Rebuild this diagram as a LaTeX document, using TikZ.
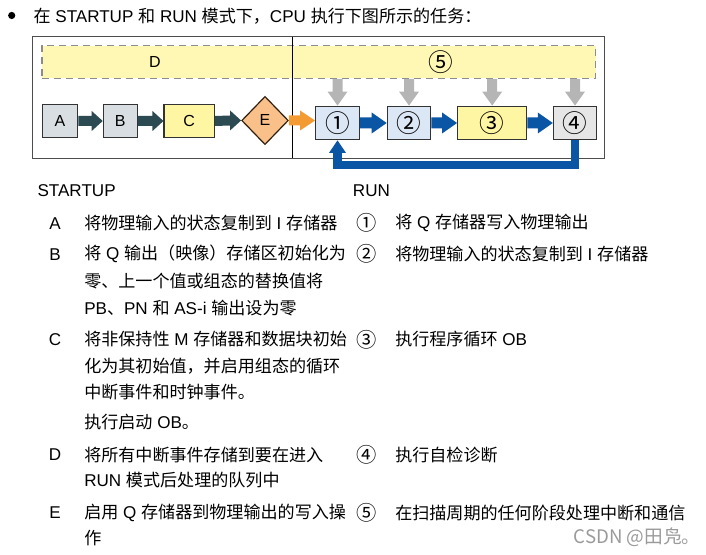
\documentclass[tikz,border=0pt]{standalone}
\usepackage{fontspec}
\setmainfont{Liberation Sans}
\newfontfamily\cjk{Noto Sans CJK SC}
\usetikzlibrary{shapes.geometric,calc}
\newcommand\z[1]{{\cjk #1}}
\definecolor{boxgray}{HTML}{D9DEE3}
\definecolor{boxblue}{HTML}{DCE7F5}
\definecolor{boxyellow}{HTML}{FFF6A3}
\definecolor{boxlight}{HTML}{E6E6E6}
\definecolor{diamondfill}{HTML}{F9C08A}
\definecolor{bandyellow}{HTML}{FFF7B4}
\definecolor{dashgray}{HTML}{8C8C8C}
\definecolor{arrdark}{HTML}{2B4A52}
\definecolor{arrorange}{HTML}{F39A33}
\definecolor{arrblue}{HTML}{0A56A5}
\definecolor{arrgray}{HTML}{B5B5B5}
\definecolor{framegray}{HTML}{4D4D4D}
\definecolor{wmgray}{HTML}{9A9A9A}
% horizontal block arrow: colour, from, to, half shaft, half head, head length (px)
\newcommand\blockarr[6]{%
  \fill[#1] ($(#2)+(0,-#4)$) -- ($(#3)+(-#6,-#4)$) -- ($(#3)+(-#6,-#5)$) -- (#3)
    -- ($(#3)+(-#6,#5)$) -- ($(#3)+(-#6,#4)$) -- ($(#2)+(0,#4)$) -- cycle;}
% downward block arrow (y grows downward)
\newcommand\downarr[6]{%
  \fill[#1] ($(#2)+(-#4,0)$) -- ($(#3)+(-#4,-#6)$) -- ($(#3)+(-#5,-#6)$) -- (#3)
    -- ($(#3)+(#5,-#6)$) -- ($(#3)+(#4,-#6)$) -- ($(#2)+(#4,0)$) -- cycle;}
\tikzset{
  bodyfont/.style={font=\fontsize{12.8}{15}\selectfont},
  txt/.style={anchor=west, inner sep=0pt, bodyfont},
  letter/.style={inner sep=0pt, bodyfont},
  circnum/.style={inner sep=0pt, font=\cjk\fontsize{15.2}{17}\selectfont},
  stepbox/.style={draw=black!80, line width=0.9pt, inner sep=0pt, minimum height=25.2pt,
    font=\fontsize{12}{13}\selectfont},
  runbox/.style={stepbox, font=\cjk\fontsize{18.5}{19}\selectfont}
}
\begin{document}
\begin{tikzpicture}[x=0.75pt,y={(0pt,-0.75pt)}]
\useasboundingbox (0,0) rectangle (706,555);
% title
\node[circle, fill=black, inner sep=0pt, minimum size=5.4pt] (bullet) at (11.7,15.5) {};
\node[txt] (title) at (33.3,16) {\z{在} STARTUP \z{和} RUN \z{模式下，}CPU \z{执行下图所示的任务：}};
% frame and band
\node[draw=framegray, line width=0.9pt, minimum width=428.7pt, minimum height=91.2pt, inner sep=0pt] (frame) at (318.5,97.5) {};
\node[fill=bandyellow, draw=dashgray, line width=1.1pt, dash pattern=on 5.2pt off 3.8pt,
  minimum width=415.4pt, minimum height=24.4pt, inner sep=0pt] (band) at (318.75,62) {};
\node[letter, font=\fontsize{12}{13}\selectfont] (labD) at (155,62) {D};
\node[circnum, font=\cjk\fontsize{18.5}{19}\selectfont] (lab5) at (440.6,62) {⑤};
\coordinate (divtop) at (292.5,36.7);
\coordinate (divbot) at (292.5,158.3);
\draw[line width=0.8pt] (divtop) -- (divbot);
% startup boxes
\node[stepbox, fill=boxgray, minimum width=26.5pt] (A) at (60,121) {A};
\node[stepbox, fill=boxgray, minimum width=25.5pt] (B) at (120.3,121) {B};
\node[stepbox, fill=boxyellow, minimum width=37.7pt] (C) at (189.2,121) {C};
\node[diamond, draw=black!75!brown, fill=diamondfill, line width=0.9pt, inner sep=0pt,
  minimum width=35pt, minimum height=36.2pt, font=\fontsize{12}{13}\selectfont] (E) at (265,120.5) {E};
% run boxes
\node[runbox, fill=boxblue, minimum width=32.7pt] (r1) at (337.5,123) {①};
\node[runbox, fill=boxblue, minimum width=32.6pt] (r2) at (409,123) {②};
\node[runbox, fill=boxyellow, minimum width=51.8pt] (r3) at (492.2,123) {③};
\node[runbox, fill=boxlight, minimum width=32.4pt] (r4) at (575,123) {④};
% arrows
\blockarr{arrdark}{A.east}{B.west}{5}{10}{11}
\blockarr{arrdark}{B.east}{C.west}{5}{10}{11}
\blockarr{arrdark}{C.east}{E.west}{5}{10}{11}
\coordinate (r1in) at (E.east -| r1.west);
\blockarr{arrorange}{E.east}{r1in}{5}{10}{15}
\blockarr{arrblue}{r1.east}{r2.west}{5.5}{10.5}{15}
\blockarr{arrblue}{r2.east}{r3.west}{5.5}{10.5}{15}
\blockarr{arrblue}{r3.east}{r4.west}{5.5}{10.5}{15}
\coordinate (g1) at (r1.north |- band.south);
\coordinate (g2) at (r2.north |- band.south);
\coordinate (g3) at (r3.north |- band.south);
\coordinate (g4) at (r4.north |- band.south);
\downarr{arrgray}{g1}{r1.north}{5}{10}{14}
\downarr{arrgray}{g2}{r2.north}{5}{10}{14}
\downarr{arrgray}{g3}{r3.north}{5}{10}{14}
\downarr{arrgray}{g4}{r4.north}{5}{10}{14}
% loop back
\draw[arrblue, line width=6.4pt] (r4.south) -- ($(r4.south)+(0,24.5)$) -| ($(r1.south)+(0,11.5)$);
\fill[arrblue] (r1.south) -- ($(r1.south)+(-8.5,12.5)$) -- ($(r1.south)+(8.5,12.5)$) -- cycle;
% headings
\node[txt] (hstart) at (37.3,191) {STARTUP};
\node[txt] (hrun) at (352.7,191) {RUN};
% left column
\node[letter] (tA) at (55,223.3) {A};
\node[txt] (tA1) at (84,223.3) {\z{将物理输入的状态复制到} I \z{存储器}};
\node[letter] (tB) at (55,254.3) {B};
\node[txt] (tB1) at (84,254.3) {\z{将} Q \z{输出（映像）存储区初始化为}};
\node[txt] (tB2) at (84,281) {\z{零、上一个值或组态的替换值将}};
\node[txt] (tB3) at (84,307.7) {PB\z{、}PN \z{和} AS-i \z{输出设为零}};
\node[letter] (tC) at (55,339.3) {C};
\node[txt] (tC1) at (84,339.3) {\z{将非保持性} M \z{存储器和数据块初始}};
\node[txt] (tC2) at (84,366.7) {\z{化为其初始值，并启用组态的循环}};
\node[txt] (tC3) at (84,392.3) {\z{中断事件和时钟事件。}};
\node[txt] (tC4) at (84,422.3) {\z{执行启动} OB\z{。}};
\node[letter] (tD) at (55,455) {D};
\node[txt] (tD1) at (84,455) {\z{将所有中断事件存储到要在进入}};
\node[txt] (tD2) at (84,480) {RUN \z{模式后处理的队列中}};
\node[letter] (tE) at (55,512.7) {E};
\node[txt] (tE1) at (84,512.7) {\z{启用} Q \z{存储器到物理输出的写入操}};
\node[txt] (tE2) at (84,538.3) {\z{作}};
% right column
\node[circnum] (n1) at (366.7,223.3) {①};
\node[txt] (tR1) at (395,223.3) {\z{将} Q \z{存储器写入物理输出}};
\node[circnum] (n2) at (366.7,254.3) {②};
\node[txt] (tR2) at (395,254.3) {\z{将物理输入的状态复制到} I \z{存储器}};
\node[circnum] (n3) at (366.7,339.3) {③};
\node[txt] (tR3) at (395,339.3) {\z{执行程序循环} OB};
\node[circnum] (n4) at (366.7,455) {④};
\node[txt] (tR4) at (395,455) {\z{执行自检诊断}};
\node[circnum] (n5) at (366.7,512.7) {⑤};
\node[txt] (tR5) at (395,512.7) {\z{在扫描周期的任何阶段处理中断和通信}};
% watermark
\node[inner sep=0pt, text=wmgray, font=\cjk\fontsize{14}{16}\selectfont] (wm) at (637,537) {CSDN @田凫。};
\end{tikzpicture}
\end{document}
